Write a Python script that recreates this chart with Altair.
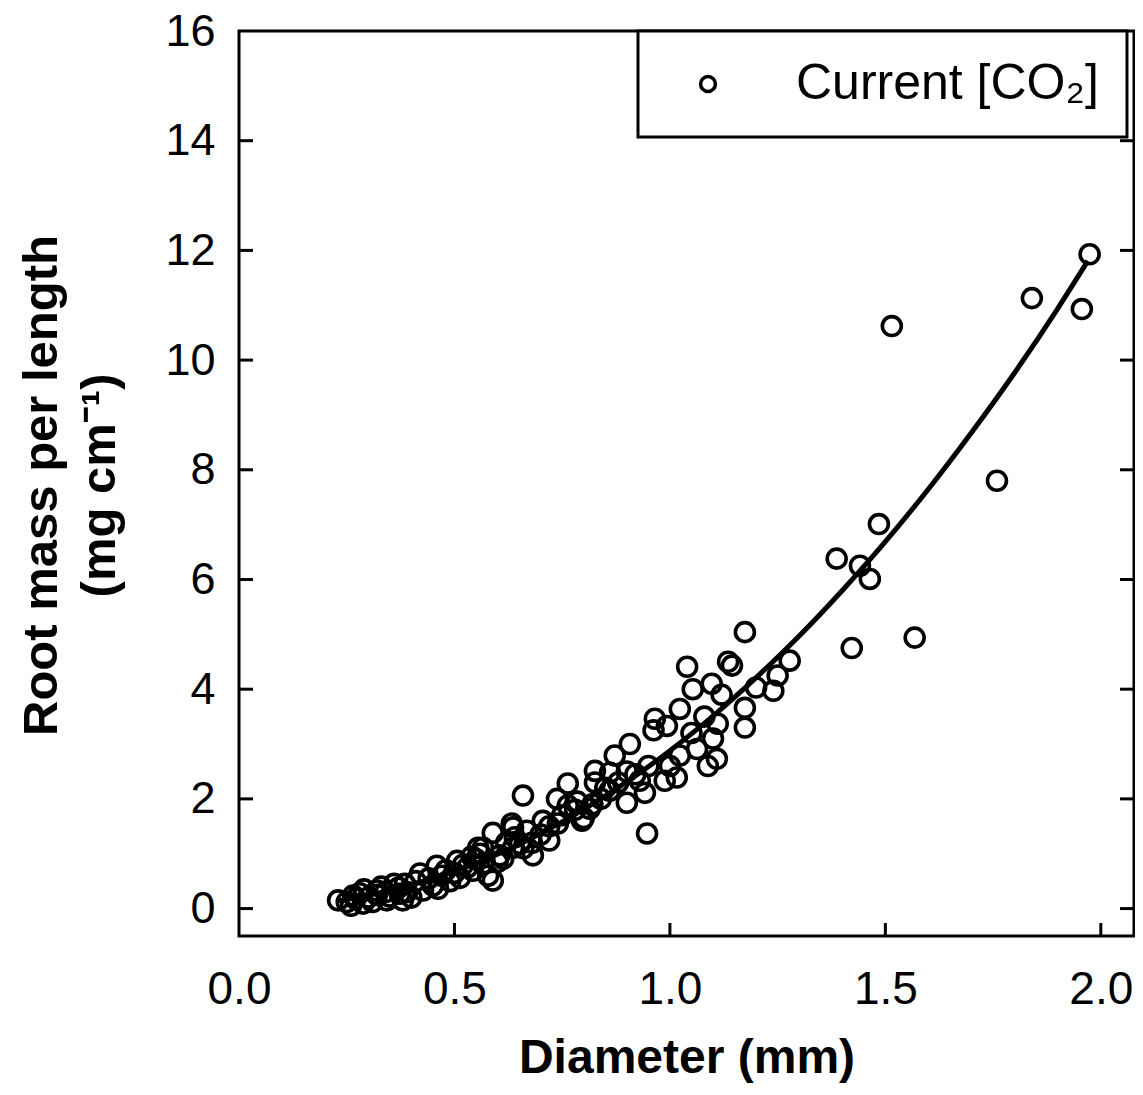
import altair as alt
import pandas as pd

# Observed points: root diameter (mm) and root mass per length (mg cm-1)
diameter = [
    1.974, 1.840, 1.956, 1.515, 1.759, 1.485, 1.387, 1.441, 1.464, 1.568, 1.422, 1.278,
    1.174, 1.040, 1.144, 1.135, 1.053, 1.097, 1.200, 1.240, 1.250, 1.174, 1.023, 1.174,
    1.111, 0.993, 0.965, 0.962, 1.100, 1.063, 1.109, 1.088, 1.023, 1.016, 0.988, 0.907,
    0.872, 0.942, 0.900, 0.930, 0.947, 0.826, 0.763, 0.659, 0.763, 0.796, 0.705, 0.668,
    0.589, 0.636, 0.652, 0.682, 0.605, 0.566, 0.826, 0.861, 0.738, 0.814, 0.720, 0.860,
    0.785, 0.840, 0.950, 0.920, 1.000, 1.050, 1.080, 1.120, 0.700, 0.740, 0.620, 0.550,
    0.530, 0.578, 0.589,
    0.230, 0.265, 0.288, 0.320, 0.343, 0.373, 0.400, 0.385, 0.420, 0.462, 0.459, 0.506,
    0.513, 0.555, 0.543, 0.613, 0.633, 0.636, 0.566, 0.427, 0.250, 0.260, 0.270, 0.280,
    0.290, 0.300, 0.310, 0.320, 0.330, 0.340, 0.350, 0.360, 0.370, 0.380, 0.390, 0.410,
    0.440, 0.450, 0.470, 0.480, 0.490, 0.500, 0.520, 0.540, 0.560, 0.600, 0.640, 0.660,
    0.680, 0.720, 0.750, 0.780, 0.800, 0.820, 0.850, 0.880, 0.900,
]
mass = [
    11.93, 11.13, 10.93, 10.62, 7.80, 7.01, 6.38, 6.25, 6.01, 4.94, 4.75, 4.52,
    5.04, 4.41, 4.43, 4.50, 4.00, 4.10, 4.03, 3.97, 4.25, 3.66, 3.64, 3.30,
    3.37, 3.33, 3.46, 3.25, 3.10, 2.91, 2.73, 2.60, 2.79, 2.39, 2.33, 3.00,
    2.79, 2.11, 1.93, 2.33, 1.37, 2.30, 2.28, 2.06, 1.88, 1.60, 1.60, 1.42,
    1.38, 1.48, 1.18, 0.97, 0.97, 1.11, 2.51, 2.48, 2.00, 1.82, 1.24, 2.15,
    1.95, 2.00, 2.60, 2.45, 2.60, 3.20, 3.50, 3.90, 1.35, 1.55, 1.20, 0.90,
    0.75, 0.60, 0.51,
    0.15, 0.24, 0.09, 0.33, 0.15, 0.27, 0.20, 0.45, 0.64, 0.36, 0.78, 0.87,
    0.56, 1.11, 0.69, 0.91, 1.55, 1.11, 0.82, 0.33, 0.12, 0.05, 0.18, 0.28,
    0.35, 0.20, 0.12, 0.25, 0.40, 0.30, 0.22, 0.45, 0.38, 0.15, 0.30, 0.50,
    0.55, 0.42, 0.60, 0.70, 0.50, 0.65, 0.80, 0.95, 1.00, 0.85, 1.30, 1.10,
    1.20, 1.50, 1.70, 1.80, 1.65, 1.90, 2.20, 2.30, 2.50,
]
series_name = "Current [CO\u2082]"

# Fitted curve
curve_d = [0.23, 0.30, 0.40, 0.50, 0.60, 0.70, 0.80, 0.90, 1.00, 1.10, 1.20, 1.30,
           1.40, 1.50, 1.60, 1.70, 1.80, 1.90, 1.97]
curve_v = [0.14, 0.24, 0.43, 0.68, 0.99, 1.37, 1.81, 2.31, 2.88, 3.51, 4.21, 4.97,
           5.80, 6.69, 7.65, 8.68, 9.77, 10.94, 11.81]

x_ticks = [0.0, 0.5, 1.0, 1.5, 2.0]
y_ticks = [0, 2, 4, 6, 8, 10, 12, 14, 16]
x_inner_ticks = [0.5, 1.0, 1.5, 2.0]
y_inner_ticks = [0, 2, 4, 6, 8, 10, 12, 14]

W, H = 895, 905
FONT = "Liberation Sans"

pts = pd.DataFrame({"d": diameter, "v": mass, "series": series_name})
curve = pd.DataFrame({"d": curve_d, "v": curve_v})
xt = pd.DataFrame({"d": x_inner_ticks})
yt = pd.DataFrame({"v": y_inner_ticks})

xscale = alt.Scale(domain=[0, 2.077], nice=False, zero=False)
yscale = alt.Scale(domain=[-0.5, 16], nice=False, zero=False)

y_title = ["Root mass per length", "(mg cm\u207b\u00b9)"]

points = alt.Chart(pts).mark_point(
    shape="circle", filled=False, size=360, strokeWidth=3.6, color="black", opacity=1
).encode(
    x=alt.X("d:Q", scale=xscale, axis=alt.Axis(
        values=x_ticks, format=".1f", title="Diameter (mm)",
        labelFontSize=46, labelFont=FONT, labelColor="black", labelPadding=31,
        titleFontSize=48, titleFont=FONT, titleFontWeight="bold", titleColor="black",
        titlePadding=22, domain=False, ticks=False, grid=False, labelFlush=False)),
    y=alt.Y("v:Q", scale=yscale, axis=alt.Axis(
        values=y_ticks, format="d", title=y_title,
        labelFontSize=45, labelFont=FONT, labelColor="black", labelPadding=24,
        titleFontSize=49, titleFont=FONT, titleFontWeight="bold", titleColor="black",
        titlePadding=40, titleLineHeight=58, titleY=454, domain=False, ticks=False,
        grid=False, labelFlush=False)),
    shape=alt.Shape("series:N", scale=alt.Scale(range=["circle"]), legend=alt.Legend(
        title=None, orient="none", legendX=399, legendY=0, padding=28,
        strokeColor="black", fillColor="white", labelLimit=1000,
        labelFont=FONT, labelFontSize=50, labelColor="black", labelOffset=63,
        symbolSize=220, symbolStrokeWidth=3.5, symbolStrokeColor="black",
        symbolFillColor="white", symbolOffset=17)),
)

line = alt.Chart(curve).mark_line(color="black", strokeWidth=5, interpolate="monotone").encode(
    x=alt.X("d:Q", scale=xscale),
    y=alt.Y("v:Q", scale=yscale),
)

left_ticks = alt.Chart(yt).mark_rule(color="black", strokeWidth=3).encode(
    y=alt.Y("v:Q", scale=yscale), x=alt.value(0), x2=alt.value(14))
right_ticks = alt.Chart(yt).mark_rule(color="black", strokeWidth=3).encode(
    y=alt.Y("v:Q", scale=yscale), x=alt.value(W - 14), x2=alt.value(W))
bottom_ticks = alt.Chart(xt).mark_rule(color="black", strokeWidth=3).encode(
    x=alt.X("d:Q", scale=xscale), y=alt.value(H), y2=alt.value(H - 13))

chart = alt.layer(points, line, left_ticks, right_ticks, bottom_ticks).properties(
    width=W, height=H,
    background="white",
    autosize=alt.AutoSizeParams(type="none"),
    padding={"left": 231, "top": 23, "right": 1, "bottom": 151},
).configure_view(stroke="black", strokeWidth=3).configure_legend(strokeWidth=3)

chart.save("out.html", embed_options={"renderer": "svg", "actions": False})
